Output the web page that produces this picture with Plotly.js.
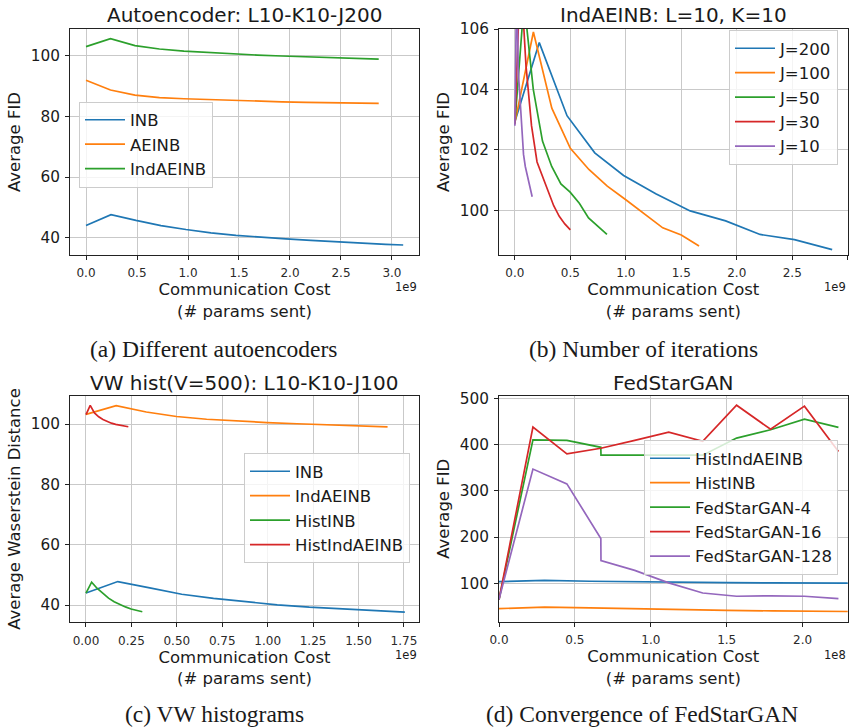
<!DOCTYPE html>
<html>
<head>
<meta charset="utf-8">
<script src="https://cdn.plot.ly/plotly-3.0.1.min.js"></script>
<style>html,body{margin:0;padding:0;background:#fff;}#chart{width:849px;height:727px;}</style>
</head>
<body>
<div id="chart"></div>
<script>
// ---------- (a) Autoencoder: L10-K10-J200  (x in units of 1e9 params) ----------
const aCostINB = [0, 0.245, 0.49, 0.735, 0.98, 1.225, 1.47, 1.715, 1.96, 2.205, 2.45, 2.695, 2.94, 3.11];
const aFidINB  = [44.0, 47.6, 45.7, 44.0, 42.7, 41.6, 40.8, 40.1, 39.6, 39.1, 38.6, 38.2, 37.8, 37.6];
const aCostAE  = [0, 0.24, 0.48, 0.72, 0.96, 1.2, 1.44, 1.68, 1.92, 2.16, 2.4, 2.64, 2.87];
const aFidAEINB    = [91.9, 88.7, 87.0, 86.2, 85.8, 85.5, 85.2, 85.0, 84.8, 84.6, 84.5, 84.4, 84.3];
const aFidIndAEINB = [103.0, 105.6, 103.3, 102.2, 101.5, 101.0, 100.6, 100.2, 99.9, 99.6, 99.4, 99.1, 98.9];

// ---------- (b) IndAEINB: L=10, K=10 (x in units of 1e9) ----------
const bCostJ200 = [0, 0.22, 0.47, 0.72, 0.98, 1.27, 1.58, 1.9, 2.21, 2.52, 2.86];
const bFidJ200  = [102.93, 105.55, 103.13, 101.9, 101.15, 100.55, 99.98, 99.65, 99.2, 99.03, 98.7];
const bCostJ100 = [0, 0.167, 0.333, 0.5, 0.667, 0.833, 1.0, 1.167, 1.333, 1.5, 1.66];
const bFidJ100  = [102.9, 105.9, 103.38, 102.05, 101.35, 100.8, 100.35, 99.88, 99.42, 99.18, 98.82];
const bCostJ50  = [0, 0.083, 0.166, 0.249, 0.332, 0.415, 0.498, 0.581, 0.664, 0.747, 0.83];
const bFidJ50   = [102.88, 106.9, 104.0, 102.29, 101.45, 100.87, 100.6, 100.23, 99.75, 99.48, 99.2];
const bCostJ30  = [0, 0.05, 0.1, 0.15, 0.2, 0.25, 0.3, 0.35, 0.4, 0.45, 0.5];
const bFidJ30   = [102.85, 108.0, 104.8, 102.8, 101.6, 101.1, 100.6, 100.15, 99.8, 99.55, 99.35];
const bCostJ10  = [0, 0.016, 0.031, 0.047, 0.062, 0.078, 0.094, 0.109, 0.125, 0.14, 0.156];
const bFidJ10   = [102.8, 107.5, 104.6, 103.75, 102.8, 101.85, 101.45, 101.18, 100.92, 100.68, 100.45];

// ---------- (c) VW hist(V=500): L10-K10-J100 (x in units of 1e9) ----------
const cCostINB = [0, 0.175, 0.351, 0.527, 0.702, 0.878, 1.053, 1.229, 1.404, 1.58, 1.755];
const cWdINB   = [44.0, 47.8, 45.7, 43.6, 42.2, 41.1, 40.1, 39.3, 38.7, 38.2, 37.7];
const cCostIndAEINB = [0, 0.166, 0.332, 0.498, 0.664, 0.83, 0.996, 1.162, 1.328, 1.494, 1.66];
const cWdIndAEINB   = [103.2, 106.1, 104.0, 102.5, 101.6, 101.0, 100.5, 100.1, 99.7, 99.4, 99.1];
const cCostHistINB  = [0, 0.031, 0.062, 0.093, 0.124, 0.155, 0.186, 0.217, 0.248, 0.279, 0.31];
const cWdHistINB    = [44.0, 47.6, 45.5, 43.8, 42.3, 41.1, 40.2, 39.4, 38.7, 38.2, 37.8];
const cCostHistIndAEINB = [0, 0.0233, 0.0466, 0.07, 0.0933, 0.1166, 0.14, 0.1633, 0.1866, 0.21, 0.233];
const cWdHistIndAEINB   = [103.1, 106.2, 103.7, 102.4, 101.5, 100.8, 100.3, 99.9, 99.6, 99.3, 99.1];

// ---------- (d) FedStarGAN (x in units of 1e8) ----------
const dCostHist = [0, 0.3, 0.6, 0.9, 1.2, 1.5, 1.8, 2.1, 2.4];
const dFidHistIndAEINB = [103.5, 106.5, 104.5, 103.0, 102.0, 101.5, 101.0, 100.5, 100.2];
const dFidHistINB      = [45.3, 48.3, 46.8, 44.5, 42.8, 41.5, 40.4, 39.5, 38.8];
const dCostGAN4   = [0, 0.2236, 0.4472, 0.6708, 0.6718, 0.894, 1.118, 1.342, 1.565, 1.789, 2.012, 2.236];
const dFidGAN4    = [65, 410, 409, 394, 377, 377, 377, 377, 414, 432, 455, 437];
const dCostGAN16  = [0, 0.2236, 0.4472, 0.6708, 0.894, 1.118, 1.342, 1.565, 1.789, 2.012, 2.236];
const dFidGAN16   = [65, 438, 380, 392, 409, 427, 407, 485, 433, 483, 385];
const dCostGAN128 = [0, 0.2236, 0.4472, 0.6708, 0.6718, 0.894, 1.118, 1.342, 1.565, 1.789, 2.012, 2.236];
const dFidGAN128  = [65, 347, 315, 197, 149, 128, 101, 79, 72, 73, 72, 67];

const C = {blue:'#1f77b4', orange:'#ff7f0e', green:'#2ca02c', red:'#d62728', purple:'#9467bd'};
const LW = 1.7;
function tr(x, y, name, color, xa, ya, leg){
  return {type:'scatter', mode:'lines', x:x, y:y, name:name, xaxis:xa, yaxis:ya, legend:leg,
          line:{color:color, width:LW}};
}

const data = [
  tr(aCostINB, aFidINB, 'INB', C.blue, 'x', 'y', 'legend'),
  tr(aCostAE, aFidAEINB, 'AEINB', C.orange, 'x', 'y', 'legend'),
  tr(aCostAE, aFidIndAEINB, 'IndAEINB', C.green, 'x', 'y', 'legend'),

  tr(bCostJ200, bFidJ200, 'J=200', C.blue, 'x2', 'y2', 'legend2'),
  tr(bCostJ100, bFidJ100, 'J=100', C.orange, 'x2', 'y2', 'legend2'),
  tr(bCostJ50, bFidJ50, 'J=50', C.green, 'x2', 'y2', 'legend2'),
  tr(bCostJ30, bFidJ30, 'J=30', C.red, 'x2', 'y2', 'legend2'),
  tr(bCostJ10, bFidJ10, 'J=10', C.purple, 'x2', 'y2', 'legend2'),

  tr(cCostINB, cWdINB, 'INB', C.blue, 'x3', 'y3', 'legend3'),
  tr(cCostIndAEINB, cWdIndAEINB, 'IndAEINB', C.orange, 'x3', 'y3', 'legend3'),
  tr(cCostHistINB, cWdHistINB, 'HistINB', C.green, 'x3', 'y3', 'legend3'),
  tr(cCostHistIndAEINB, cWdHistIndAEINB, 'HistIndAEINB', C.red, 'x3', 'y3', 'legend3'),

  tr(dCostHist, dFidHistIndAEINB, 'HistIndAEINB', C.blue, 'x4', 'y4', 'legend4'),
  tr(dCostHist, dFidHistINB, 'HistINB', C.orange, 'x4', 'y4', 'legend4'),
  tr(dCostGAN4, dFidGAN4, 'FedStarGAN-4', C.green, 'x4', 'y4', 'legend4'),
  tr(dCostGAN16, dFidGAN16, 'FedStarGAN-16', C.red, 'x4', 'y4', 'legend4'),
  tr(dCostGAN128, dFidGAN128, 'FedStarGAN-128', C.purple, 'x4', 'y4', 'legend4')
];

const W = 849, H = 727;
const FONT = 'DejaVu Sans, sans-serif';
const TXT = '#1a1a1a';
const px = p => p / W;
const py = p => 1 - p / H;

function xax(dom, range, dtick, fmt, anchor){
  return {domain:dom, range:range, anchor:anchor, dtick:dtick, tick0:0, tickformat:fmt,
    showgrid:true, gridcolor:'#c9c9c9', gridwidth:1, zeroline:false,
    showline:true, mirror:true, linecolor:'#222', linewidth:1,
    ticks:'outside', ticklen:4, tickcolor:'#222', tickwidth:1, ticklabelstandoff:3,
    tickfont:{family:FONT, size:12, color:'#2a2a2a'}, automargin:false,
    title:{text:'Communication Cost<br>(# params sent)', font:{family:FONT, size:16.5, color:TXT}, standoff:0}};
}
function yax(dom, range, dtick, title, anchor){
  return {domain:dom, range:range, anchor:anchor, dtick:dtick, tick0:0,
    showgrid:true, gridcolor:'#c9c9c9', gridwidth:1, zeroline:false,
    showline:true, mirror:true, linecolor:'#222', linewidth:1,
    ticks:'outside', ticklen:4, tickcolor:'#222', tickwidth:1, ticklabelstandoff:2,
    tickfont:{family:FONT, size:15.3, color:TXT}, automargin:false,
    title:{text:title, font:{family:FONT, size:16.5, color:TXT}, standoff:5}};
}
function leg(x, y, xanchor){
  return {x:x, y:y, xanchor:xanchor, yanchor:'top', bgcolor:'rgba(255,255,255,0.8)',
    bordercolor:'#cccccc', borderwidth:1, font:{family:FONT, size:16.5, color:TXT},
    itemwidth:40, tracegroupgap:0};
}
function ann(text, xp, yp, size, family, xanchor){
  return {text:text, x:px(xp), y:py(yp), xref:'paper', yref:'paper', showarrow:false,
    xanchor:xanchor||'center', yanchor:'middle', font:{family:family, size:size, color:TXT}};
}

const topDom = [py(255), py(29)];
const botDomC = [py(622.3), py(395.7)];
const botDomD = [py(621.7), py(395.7)];
const leftDom = [px(70), px(419)];
const rightDom = [px(499), px(847.7)];
const SERIF = 'Liberation Serif, Times New Roman, serif';

const layout = {
  width:W, height:H, margin:{l:0, r:0, t:0, b:0},
  paper_bgcolor:'#fff', plot_bgcolor:'#fff',
  font:{family:FONT, color:TXT},
  xaxis: xax(leftDom, [-0.157, 3.265], 0.5, '.1f', 'y'),
  yaxis: yax(topDom, [34.3, 108.8], 20, 'Average FID', 'x'),
  xaxis2: xax(rightDom, [-0.143, 3.0], 0.5, '.1f', 'y2'),
  yaxis2: yax(topDom, [98.52, 106], 2, 'Average FID', 'x2'),
  xaxis3: xax(leftDom, [-0.088, 1.833], 0.25, '.2f', 'y3'),
  yaxis3: yax(botDomC, [34.3, 109.4], 20, 'Average Waserstein Distance', 'x3'),
  xaxis4: xax(rightDom, [0, 2.297], 0.5, '.1f', 'y4'),
  yaxis4: yax(botDomD, [17, 505.6], 100, 'Average FID', 'x4'),
  legend:  leg(px(79), py(101.5), 'left'),
  legend2: leg(px(838), py(30), 'right'),
  legend3: leg(px(410), py(453), 'right'),
  legend4: leg(px(838), py(440), 'right'),
  showlegend:true,
  annotations:[
    ann('Autoencoder: L10-K10-J200', 244, 15, 20, FONT),
    ann('IndAEINB: L=10, K=10', 673, 15, 20, FONT),
    ann('VW hist(V=500): L10-K10-J100', 244, 382.5, 20, FONT),
    ann('FedStarGAN', 673, 382.5, 20, FONT),
    ann('1e9', 419, 287, 11.5, FONT, 'right'),
    ann('1e9', 848, 287, 11.5, FONT, 'right'),
    ann('1e9', 419, 655, 11.5, FONT, 'right'),
    ann('1e8', 848, 655, 11.5, FONT, 'right'),
    ann('(a) Different autoencoders', 214, 349, 23.5, SERIF),
    ann('(b) Number of iterations', 643, 349, 23.5, SERIF),
    ann('(c) VW histograms', 214, 714, 23.5, SERIF),
    ann('(d) Convergence of FedStarGAN', 642, 714, 23.5, SERIF)
  ]
};

Plotly.newPlot('chart', data, layout, {displayModeBar:false, staticPlot:true});
</script>
</body>
</html>
